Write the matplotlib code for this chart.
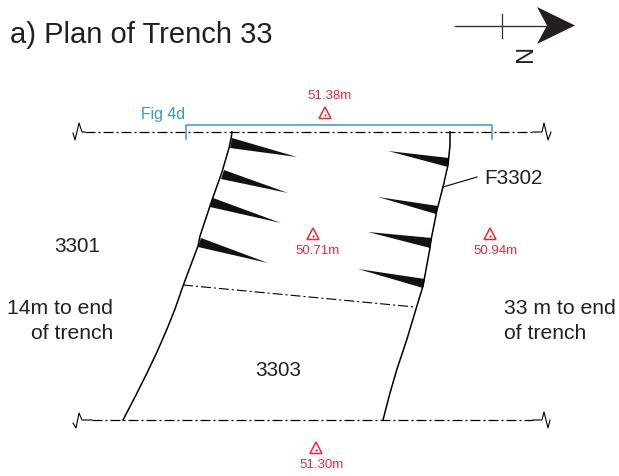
import matplotlib
matplotlib.use("Agg")
import matplotlib.pyplot as plt
from matplotlib.patches import Polygon

plt.rcParams['font.family'] = ['Liberation Sans', 'DejaVu Sans']
plt.rcParams['lines.scale_dashes'] = False

BLACK = '#231f20'
RED = '#ee2737'
BLUE = '#3a97d4'
PX = 0.72

# Feature edges (image pixel coordinates)
left_edge_x = [232, 231, 229, 222, 212, 200, 198, 183, 175, 167, 157, 147, 136, 123]
left_edge_y = [132, 139, 148, 172, 200, 236, 246, 286, 309, 329, 352, 373, 395, 420]
right_edge_x = [450, 450, 448, 443, 437, 431, 430, 423, 416, 407, 397, 390, 383]
right_edge_y = [132, 145, 165, 187, 210, 240, 248, 286, 309, 339, 369, 393, 420]
inner_x = [183, 415]
inner_y = [285, 307]

# Hachures: tip, base point 1, base point 2
hachures = [
    [(297, 157), (232, 138), (230, 148)],
    [(288, 193), (224, 170), (221, 179)],
    [(281, 223), (213, 198), (210, 207)],
    [(268, 263), (201, 238), (198, 247)],
    [(388, 151), (449, 158), (448, 167)],
    [(378, 197), (438, 206), (436, 214)],
    [(368, 232), (432, 238), (430, 248)],
    [(358, 269), (425, 279), (423, 288)],
]

section_top_x = [85, 533]
section_top_y = [132, 132]
section_bot_x = [92, 533]
section_bot_y = [420, 420]
breaks_x = [[73, 75, 79, 82, 85], [533, 542, 544, 548, 551],
            [73, 76, 79, 82, 92], [533, 542, 544, 548, 550]]
breaks_y = [[133, 140, 123, 132, 132], [132, 132, 123, 140, 132],
            [423, 428, 413, 420, 420], [420, 420, 412, 428, 420]]

bracket_x = [186, 186, 492, 492]
bracket_y = [139, 125, 125, 139]

level_x = [325, 313, 490, 316]
level_y = [113, 234, 234, 448]
level_labels = ['51.38m', '50.71m', '50.94m', '51.30m']
level_label_y = [96, 251, 251, 465]
level_label_x = [330, 318, 495, 322]

context_labels = ['3301', '3303', 'F3302']
context_x = [77, 278, 513]
context_y = [247, 371, 179]

fig = plt.figure(figsize=(6.19, 4.76), dpi=100)
ax = fig.add_axes([0, 0, 1, 1])
ax.set_xlim(0, 619)
ax.set_ylim(476, 0)
ax.axis('off')

ax.plot(left_edge_x, left_edge_y, color='black', lw=1.1, solid_joinstyle='round')
ax.plot(right_edge_x, right_edge_y, color='black', lw=1.1, solid_joinstyle='round')
dash = (0, (10 * PX, 3 * PX, 2 * PX, 3 * PX))
ax.plot(inner_x, inner_y, color='black', lw=0.8, linestyle=dash)
ax.plot(section_top_x, section_top_y, color='black', lw=0.9, linestyle=dash)
ax.plot(section_bot_x, section_bot_y, color='black', lw=0.9, linestyle=dash)
for bx, by in zip(breaks_x, breaks_y):
    ax.plot(bx, by, color='black', lw=0.8)
for h in hachures:
    ax.add_patch(Polygon(h, closed=True, facecolor='#111111', edgecolor='none'))
ax.plot(bracket_x, bracket_y, color=BLUE, lw=1.1)
ax.text(163, 115, 'Fig 4d', color=BLUE, fontsize=11.4, ha='center', va='center')

# Level markers
for x, y in zip(level_x, level_y):
    ax.add_patch(Polygon([(x - 6, y + 5.5), (x, y - 6), (x + 6, y + 5.5)], closed=True,
                         facecolor='none', edgecolor=RED, lw=1.1))
    ax.plot([x], [y + 1.5], marker='o', ms=1.6, color=RED, mew=0)
for x, y, s in zip(level_label_x, level_label_y, level_labels):
    ax.text(x, y, s, color=RED, fontsize=9.5, ha='center', va='center')

# Leader for F3302
ax.plot([443, 477], [187, 177], color='black', lw=0.8)
for x, y, s in zip(context_x, context_y, context_labels):
    ax.text(x, y, s, color=BLACK, fontsize=14.9, ha='center', va='center')

ax.text(113, 321, '14m to end\nof trench', color=BLACK, fontsize=15.2, ha='right',
        va='center', linespacing=1.36)
ax.text(504, 321, '33 m to end\nof trench', color=BLACK, fontsize=15.2, ha='left',
        va='center', linespacing=1.36)
ax.text(10, 35, 'a) Plan of Trench 33', color=BLACK, fontsize=21, ha='left', va='center')

# North arrow
ax.plot([455, 548], [25.5, 25.5], color='#333333', lw=1.0)
ax.plot([502, 502], [14, 38], color='#333333', lw=0.9)
ax.add_patch(Polygon([(537, 7), (575, 25.5), (537, 44), (547, 25.5)], closed=True,
                     facecolor=BLACK, edgecolor='none'))
ax.text(519, 56, 'N', color=BLACK, fontsize=17, rotation=-90, ha='center', va='center')

fig.savefig('out.png', dpi=100)
